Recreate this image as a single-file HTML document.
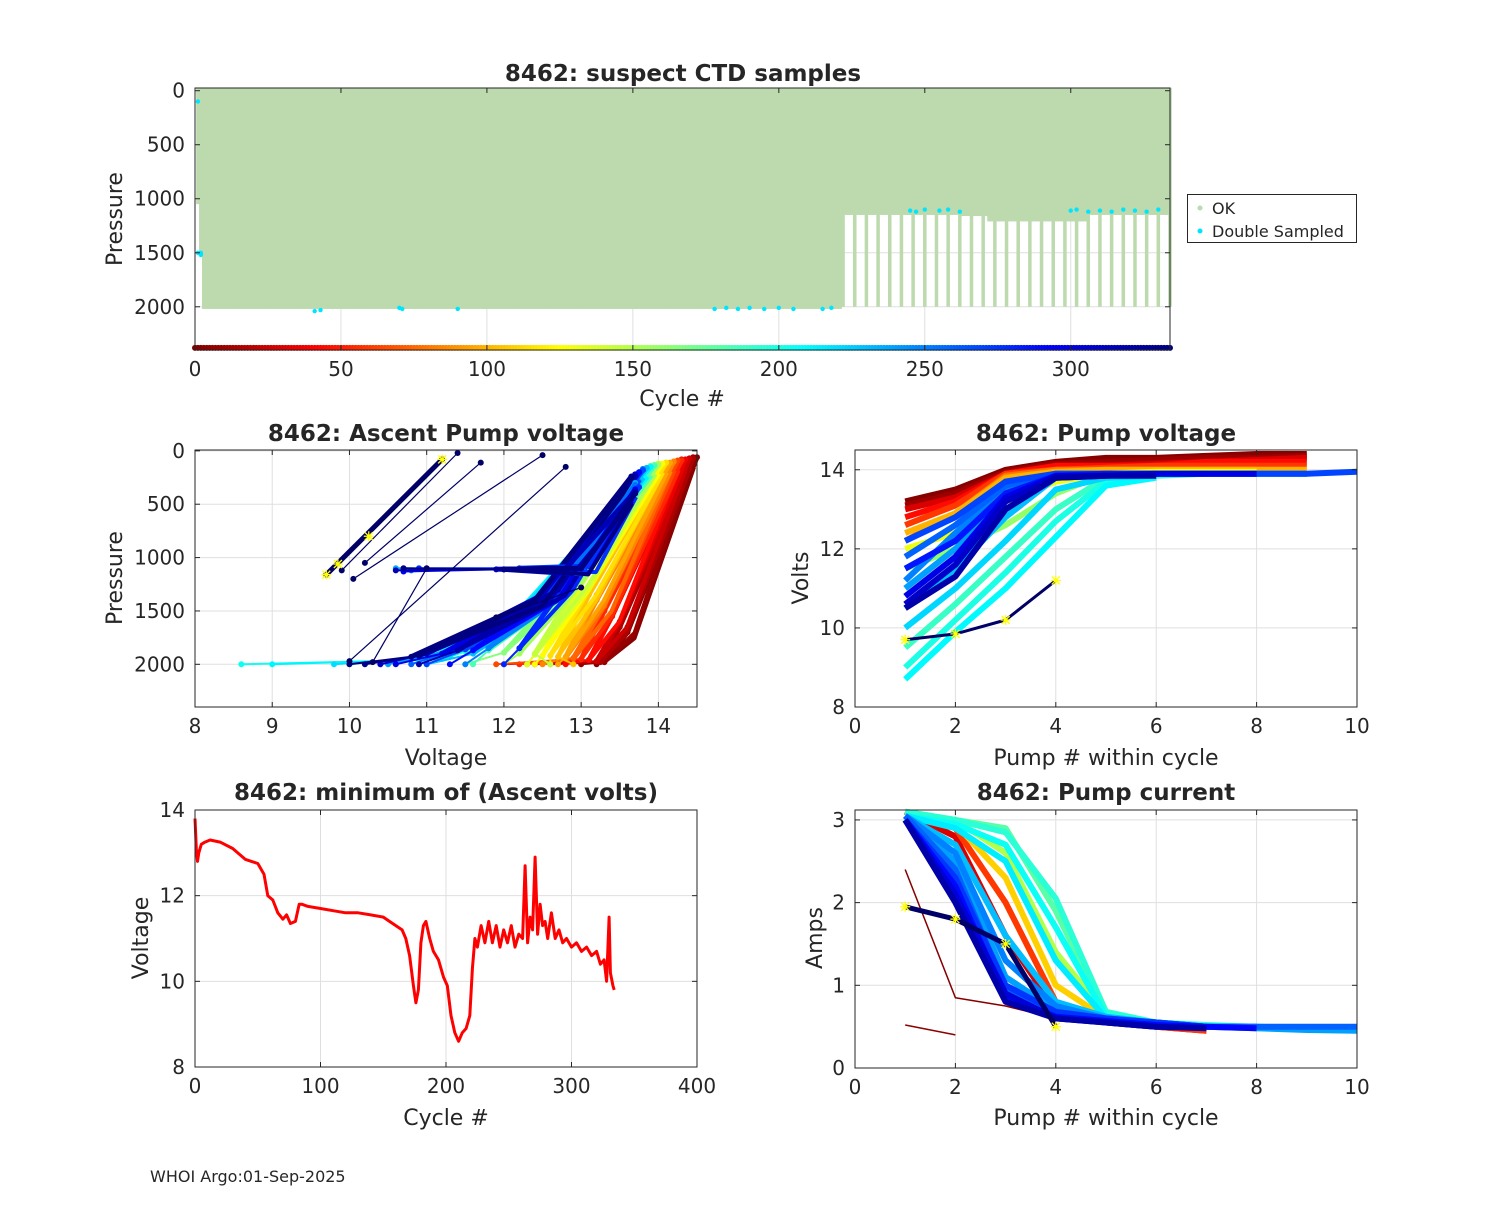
<!DOCTYPE html>
<html><head><meta charset="utf-8"><style>
body{margin:0;background:#fff;}
svg text{font-family:"DejaVu Sans","Liberation Sans",sans-serif;fill:#262626;}
</style></head><body>
<svg id="fig" width="1500" height="1200" viewBox="0 0 1500 1200" xmlns="http://www.w3.org/2000/svg">
<rect width="1500" height="1200" fill="#fff"/>
</svg>
<script>
// ---------- DATA ----------
const deepCycleEnd = 221;
const deepMaxP = 2020;
const earlyCycles = [1, 2];
const earlyMaxP = [1050, 1500];
const deepCyclesLate = [222,226,230,234,238,242,246,250,254,258,262,266,270,274,278,282,286,290,294,298,302,306,310,314,318,322,326,330,334];
const shallowStart = [222, 262, 272, 306];
const shallowDepth = [1150, 1160, 1210, 1150];
const dblCycles = [1,1,2,2,2,41,43,70,71,90,178,182,186,190,195,200,205,215,218,245,247,250,255,258,262,300,302,306,310,314,318,322,326,330];
const dblP = [100,1500,1500,1520,1510,2040,2030,2010,2020,2020,2020,2010,2020,2010,2020,2010,2020,2020,2010,1110,1120,1100,1110,1100,1120,1110,1100,1120,1110,1120,1100,1110,1120,1100];

const minCycles = [0,1,2,3,5,8,12,20,30,40,45,50,55,58,62,66,70,73,76,80,83,85,90,100,110,120,130,140,150,155,160,165,168,171,174,176,178,180,182,184,187,190,194,198,201,204,207,210,213,216,219,221,223,225,228,231,234,237,240,243,246,249,252,255,258,261,263,265,267,269,271,273,275,277,279,281,284,287,290,293,296,300,304,308,312,316,320,323,326,328,330,331,333,334];
const minVolts = [13.8,13.1,12.8,13.0,13.2,13.25,13.3,13.25,13.1,12.85,12.8,12.75,12.5,12.0,11.9,11.6,11.45,11.55,11.35,11.4,11.8,11.8,11.75,11.7,11.65,11.6,11.6,11.55,11.5,11.4,11.3,11.2,11.0,10.6,9.9,9.5,9.8,10.9,11.3,11.4,11.0,10.7,10.5,10.1,9.9,9.2,8.8,8.6,8.8,8.9,9.2,10.3,11.0,10.8,11.3,10.9,11.4,10.9,11.3,10.8,11.2,10.9,11.3,10.8,11.1,11.0,12.7,10.9,11.5,11.2,12.9,11.1,11.8,11.3,11.4,11.0,11.6,11.0,11.2,10.9,11.0,10.8,10.9,10.7,10.8,10.6,10.7,10.4,10.5,10.0,11.5,10.2,9.9,9.8];

// Ascent pump voltage profiles: [voltage, pressure] vertices (bottom, bend1, bend2, top)
const ascCycles = [3,8,15,25,35,45,55,65,75,85,95,105,115,125,135,145,155,165,175,185,195,205,212,220,230,240,250,260,270,280,290,300,310,320,330,334,236,256,276,296,316,332];
const ascV = [
[13.2,13.3,13.6,14.5],[13.0,13.3,13.6,14.45],[12.6,13.25,13.5,14.45],[12.4,13.2,13.5,14.4],[12.0,13.1,13.4,14.35],[12.8,13.1,13.4,14.3],[12.2,13.0,13.3,14.3],[11.9,12.9,13.3,14.25],[12.3,12.9,13.3,14.2],[12.5,12.8,13.2,14.2],
[12.7,12.8,13.2,14.15],[12.9,12.7,13.1,14.1],[12.6,12.6,13.1,14.1],[12.4,12.5,13.0,14.05],[12.3,12.4,13.0,14.0],[12.6,12.4,13.0,14.0],[12.0,12.2,12.9,14.0],[11.5,12.0,12.8,13.95],[10.0,11.6,12.5,13.9],[11.6,11.8,12.6,13.95],
[11.0,11.5,12.4,13.9],[8.6,11.0,12.2,13.9],[9.0,11.2,12.2,13.9],[9.8,11.3,12.3,13.85],[11.0,11.6,12.5,13.85],[10.5,11.4,12.6,13.8],[11.5,11.8,12.7,13.8],[10.8,11.3,12.6,13.8],[11.0,11.5,12.6,13.8],[12.0,12.2,12.8,13.75],
[11.3,11.6,12.7,13.75],[10.6,11.2,12.6,13.7],[10.4,11.0,12.5,13.7],[10.9,11.4,12.7,13.7],[10.2,10.9,12.4,13.65],[10.0,10.8,12.4,13.65],
[10.6,12.0,13.0,13.7],[10.8,12.0,12.9,13.7],[10.9,12.2,13.1,13.75],[10.7,12.0,13.0,13.7],[10.6,11.9,12.8,13.7],[10.7,12.0,13.0,13.7]];
const ascP = [
[2000,1980,1700,60],[2000,1980,1650,60],[2000,1980,1650,70],[2000,1970,1600,70],[2000,1960,1550,80],[2000,1960,1550,80],[2000,1950,1500,90],[2000,1950,1450,90],[2000,1940,1450,100],[2000,1940,1400,100],
[2000,1930,1350,110],[2000,1930,1350,110],[2000,1920,1300,110],[2000,1920,1250,120],[2000,1910,1250,120],[2000,1900,1200,120],[2000,1900,1200,130],[2000,1890,1250,130],[2000,1880,1400,140],[2000,1870,1350,140],
[2000,1880,1450,150],[2000,1960,1500,150],[2000,1950,1500,150],[2000,1920,1450,160],[2000,1900,1400,160],[2000,1850,1300,170],[2000,1850,1300,170],[2000,1880,1350,180],[2000,1860,1300,180],[2000,1850,1250,200],
[2000,1870,1300,200],[2000,1900,1350,220],[2000,1900,1350,220],[2000,1870,1300,240],[2000,1920,1400,240],[2000,1930,1400,250],
[1100,1110,1100,300],[1120,1110,1100,320],[1100,1100,1080,340],[1130,1110,1100,360],[1120,1110,1100,380],[1100,1110,1100,400]];
const navyV = [[9.7,11.2],[9.9,11.4],[10.05,12.5],[10.2,11.7],[11.9,13.0],[10.0,12.8],[10.3,11.0]];
const navyP = [[1160,80],[1120,20],[1200,40],[1050,110],[1560,1280],[1970,150],[1980,1100]];

// Pump voltage within cycle
const pvCycles = [2,10,30,45,60,80,100,130,160,190,200,210,222,230,240,250,260,270,285,300,310,320,334];
const pvVolts = [
[13.2,13.5,14.0,14.2,14.3,14.3,14.35,14.4,14.4],
[13.1,13.4,13.95,14.15,14.2,14.25,14.3,14.3,14.35],
[13.0,13.3,13.9,14.1,14.1,14.15,14.2,14.25,14.3],
[12.8,13.2,13.9,14.1,14.1,14.1,14.2,14.2,14.2],
[12.6,13.1,13.9,14.0,14.05,14.1,14.1,14.1,14.1],
[12.2,12.9,13.85,14.0,14.0,14.0,14.0,14.0],
[12.4,12.9,13.8,13.95,14.0,14.0,14.0,14.0,14.0],
[12.0,12.4,13.2,13.7,13.9,13.95,13.95,13.95],
[11.5,12.0,12.6,13.4,13.9,13.9,13.9],
[9.5,10.6,11.8,13.0,13.8,13.85,13.9],
[9.0,10.2,11.4,12.7,13.7,13.85],
[8.7,9.9,11.0,12.3,13.6,13.8],
[10.0,11.0,12.2,13.5,13.8,13.85],
[10.5,11.5,12.8,13.8,13.85,13.9,13.9,13.9,13.9],
[11.0,12.0,13.2,13.85,13.9,13.9,13.9,13.9],
[11.2,12.4,13.5,13.85,13.9,13.9,13.9,13.9,13.9],
[11.8,12.6,13.6,13.9,13.9,13.9,13.9],
[12.2,12.8,13.7,13.9,13.9,13.9,13.9,13.9,13.9,13.95],
[11.5,12.2,13.4,13.85,13.9,13.9],
[10.8,11.8,13.3,13.85,13.85,13.9,13.9,13.9],
[10.6,11.6,13.2,13.8,13.85],
[10.5,11.3,13.0,13.8,13.85,13.85],
[9.7,9.85,10.2,11.2]];

// Pump current within cycle
const pcCycles = [2,5,30,60,110,150,180,195,205,215,230,240,250,260,275,290,305,320,334];
const pcAmps = [
[2.4,0.85,0.75,0.6],
[0.52,0.4],
[3.1,2.8,1.6,0.7,0.55,0.5,0.45],
[3.1,2.9,2.0,0.8,0.6,0.5,0.45],
[3.1,2.95,2.3,1.0,0.6,0.55,0.5],
[3.1,3.0,2.6,1.4,0.65,0.55,0.5,0.5],
[3.1,3.0,2.9,1.9,0.65,0.55,0.5,0.5,0.48],
[3.1,3.0,2.85,2.05,0.68,0.55,0.52,0.5,0.48],
[3.05,2.95,2.7,1.7,0.62,0.55,0.5,0.5],
[3.05,2.9,2.5,1.3,0.6,0.55,0.5],
[3.05,2.7,1.6,0.8,0.62,0.55,0.5,0.5],
[3.05,2.5,1.1,0.7,0.6,0.55,0.5,0.48,0.46,0.45],
[3.05,2.6,1.3,0.75,0.6,0.55,0.5,0.5],
[3.05,2.4,0.95,0.65,0.58,0.55,0.5,0.5,0.5,0.5],
[3.0,2.3,1.0,0.68,0.6,0.55,0.5],
[3.0,2.2,0.85,0.62,0.57,0.52,0.5,0.48],
[3.0,2.1,0.9,0.6,0.55,0.5],
[3.0,2.0,0.8,0.6,0.55,0.5,0.48],
[1.95,1.8,1.5,0.5]];

const topXTicks = [0,50,100,150,200,250,300];
const topYTicks = [0,500,1000,1500,2000];
const mlXTicks = [8,9,10,11,12,13,14];
const mlYTicks = [0,500,1000,1500,2000];
const pumpXTicks = [0,2,4,6,8,10];
const pvYTicks = [8,10,12,14];
const blXTicks = [0,100,200,300,400];
const blYTicks = [8,10,12,14];
const pcYTicks = [0,1,2,3];

// ---------- DRAWING ----------
const NS = 'http://www.w3.org/2000/svg';
const fig = document.getElementById('fig');
function mk(tag, attrs, parent){
  const e = document.createElementNS(NS, tag);
  for (const k in attrs) e.setAttribute(k, attrs[k]);
  (parent || fig).appendChild(e);
  return e;
}
function jet(t){
  const c = v => Math.max(0, Math.min(1, v));
  const r = c(1.5 - Math.abs(4*t - 3)), g = c(1.5 - Math.abs(4*t - 2)), b = c(1.5 - Math.abs(4*t - 1));
  return `rgb(${Math.round(r*255)},${Math.round(g*255)},${Math.round(b*255)})`;
}
function cyc(c){ return jet(1 - c/334); }

function axes(name, x0, y0, w, h, xmin, xmax, ymin, ymax, revY, xt, yt){
  const g = mk('g', {});
  
  
  const sx = v => x0 + (v - xmin) / (xmax - xmin) * w;
  const sy = revY ? (v => y0 + (v - ymin) / (ymax - ymin) * h) : (v => y0 + h - (v - ymin) / (ymax - ymin) * h);
  mk('rect', {x:x0, y:y0, width:w, height:h, fill:'#fff'}, g);
  const grid = mk('g', {}, g);
  
  
  xt.forEach(v => { mk('line', {x1:sx(v), x2:sx(v), y1:y0, y2:y0+h, stroke:'#dfdfdf', 'stroke-width':1}, grid); });
  yt.forEach(v => { mk('line', {x1:x0, x2:x0+w, y1:sy(v), y2:sy(v), stroke:'#dfdfdf', 'stroke-width':1}, grid); });
  const plot = mk('g', {}, g);
  
  
  const over = mk('g', {}, g);
  mk('rect', {x:x0, y:y0, width:w, height:h, fill:'none', stroke:'#262626', 'stroke-width':1}, over);
  xt.forEach(v => {
    mk('line', {x1:sx(v), x2:sx(v), y1:y0+h, y2:y0+h-5, stroke:'#262626'}, over);
    mk('line', {x1:sx(v), x2:sx(v), y1:y0, y2:y0+5, stroke:'#262626'}, over);
    const t = mk('text', {x:sx(v), y:y0+h+26, 'text-anchor':'middle', 'font-size':20}, over);
    t.textContent = v;
    
    
  });
  yt.forEach(v => {
    mk('line', {x1:x0, x2:x0+5, y1:sy(v), y2:sy(v), stroke:'#262626'}, over);
    mk('line', {x1:x0+w, x2:x0+w-5, y1:sy(v), y2:sy(v), stroke:'#262626'}, over);
    const t = mk('text', {x:x0-10, y:sy(v)+7, 'text-anchor':'end', 'font-size':20}, over);
    t.textContent = v;
    
    
  });
  return {sx, sy, plot, over, g};
}
function label(txt, x, y, size, opts, nm){
  const t = mk('text', Object.assign({x, y, 'text-anchor':'middle', 'font-size':size}, opts||{}));
  t.textContent = txt;
  
  
  return t;
}
function poly(parent, pts, color, w, name){
  const p = mk('polyline', {points: pts.map(q => q[0].toFixed(1)+','+q[1].toFixed(1)).join(' '), fill:'none', stroke:color, 'stroke-width':w, 'stroke-linejoin':'round'}, parent);
  
  
  return p;
}
function dot(parent, x, y, r, color, name){
  const c = mk('circle', {cx:x, cy:y, r, fill:color}, parent);
  
  
}
function star(parent, x, y, name){
  const p = mk('path', {d:`M${x-5},${y}H${x+5}M${x},${y-5}V${y+5}M${x-4},${y-4}L${x+4},${y+4}M${x-4},${y+4}L${x+4},${y-4}`, stroke:'#ffff00', 'stroke-width':1.3}, parent);
  
  
}

// ---- Top plot ----
const A = axes('ctd-samples-plot', 195, 88, 975, 262, 0, 334, -25, 2400, true, topXTicks, topYTicks);
const green = '#bcdaae';
const cw = A.sx(1) - A.sx(0);
function maxP(c){
  const ei = earlyCycles.indexOf(c);
  if (ei >= 0) return earlyMaxP[ei];
  if (c <= deepCycleEnd) return deepMaxP;
  if (deepCyclesLate.indexOf(c) >= 0) return deepMaxP - 20;
  let d = shallowDepth[0];
  shallowStart.forEach((s, i) => { if (c >= s) d = shallowDepth[i]; });
  return d;
}
for (let c = 1; c <= 334; c++){
  const r = mk('rect', {x:A.sx(c-0.5)-0.3, y:A.sy(0)-3, width:cw+0.6, height:A.sy(maxP(c))-A.sy(0)+3, fill:green}, A.plot);
  
  
}
for (let c = 0; c <= 334; c++){
  dot(A.plot, A.sx(c), A.sy(2380), 3, cyc(c), 'cycle-color-marker');
}
dblCycles.forEach((c, i) => dot(A.plot, A.sx(c), A.sy(dblP[i]), 2.2, '#00e5ff', 'double-sampled-point'));
label('8462: suspect CTD samples', 683, 81, 23, {'font-weight':'bold', fill:'#000'}, 'top-title');
label('Cycle #', 682, 406, 22, {}, 'top-x-axis-title');
label('Pressure', 122, 219, 22, {transform:'rotate(-90 122 219)'}, 'top-y-axis-title');
const lg = mk('g', {});


mk('rect', {x:1187.5, y:194.5, width:169, height:48, fill:'#fff', stroke:'#262626'}, lg);
dot(lg, 1200, 208, 2.5, '#bcdaae', 'legend-ok-marker');
dot(lg, 1200, 231, 2.5, '#00e5ff', 'legend-double-marker');
const l1 = mk('text', {x:1212, y:214, 'font-size':16}, lg); l1.textContent = 'OK';


const l2 = mk('text', {x:1212, y:237, 'font-size':16}, lg); l2.textContent = 'Double Sampled';



// ---- Mid-left ----
const B = axes('ascent-pump-voltage-plot', 195, 450, 502, 257, 8, 14.5, -8, 2400, true, mlXTicks, mlYTicks);
ascCycles.forEach((c, i) => {
  const pts = ascV[i].map((v, j) => [B.sx(v), B.sy(ascP[i][j])]);
  const col = cyc(c);
  poly(B.plot, pts.slice(0, 2), col, 2, 'ascent-profile-bottom-line');
  poly(B.plot, pts.slice(1), col, 5, 'ascent-profile-line');
  poly(B.plot, [pts[1], [pts[2][0]+7, pts[2][1]+6], [pts[3][0]-3, pts[3][1]+10]], col, 4, 'ascent-profile-line');
  pts.forEach(q => dot(B.plot, q[0], q[1], 3, col, 'ascent-profile-point'));
});
navyV.forEach((vs, i) => {
  const pts = vs.map((v, j) => [B.sx(v), B.sy(navyP[i][j])]);
  poly(B.plot, pts, '#000066', i === 0 ? 5 : 1.2, 'late-cycle-line');
  pts.forEach(q => dot(B.plot, q[0], q[1], 3, '#000066', 'late-cycle-point'));
});
star(B.plot, B.sx(9.7), B.sy(1160), 'latest-cycle-star');
star(B.plot, B.sx(9.85), B.sy(1060), 'latest-cycle-star');
star(B.plot, B.sx(10.25), B.sy(800), 'latest-cycle-star');
star(B.plot, B.sx(11.2), B.sy(80), 'latest-cycle-star');
label('8462: Ascent Pump voltage', 446, 441, 23, {'font-weight':'bold', fill:'#000'}, 'ascent-title');
label('Voltage', 446, 765, 22, {}, 'ascent-x-axis-title');
label('Pressure', 122, 578, 22, {transform:'rotate(-90 122 578)'}, 'ascent-y-axis-title');

// ---- Mid-right ----
const C = axes('pump-voltage-plot', 855, 450, 502, 257, 0, 10, 8, 14.5, false, pumpXTicks, pvYTicks);
pvCycles.forEach((c, i) => {
  const pts = pvVolts[i].map((v, j) => [C.sx(j+1), C.sy(v)]);
  const last = i === pvCycles.length - 1;
  poly(C.plot, pts, last ? '#000066' : cyc(c), last ? 3 : 6, 'pump-voltage-line');
  if (last) pts.forEach(q => star(C.plot, q[0], q[1], 'latest-pump-star'));
});
label('8462: Pump voltage', 1106, 441, 23, {'font-weight':'bold', fill:'#000'}, 'pump-voltage-title');
label('Pump # within cycle', 1106, 765, 22, {}, 'pump-voltage-x-axis-title');
label('Volts', 808, 578, 22, {transform:'rotate(-90 808 578)'}, 'pump-voltage-y-axis-title');

// ---- Bottom-left ----
const D = axes('min-ascent-volts-plot', 195, 810, 502, 257, 0, 400, 8, 14, false, blXTicks, blYTicks);
poly(D.plot, minCycles.map((c, i) => [D.sx(c), D.sy(minVolts[i])]), '#ff0000', 3, 'min-volts-line');
label('8462: minimum of (Ascent volts)', 446, 800, 23, {'font-weight':'bold', fill:'#000'}, 'min-volts-title');
label('Cycle #', 446, 1125, 22, {}, 'min-volts-x-axis-title');
label('Voltage', 148, 938, 22, {transform:'rotate(-90 148 938)'}, 'min-volts-y-axis-title');

// ---- Bottom-right ----
const E = axes('pump-current-plot', 855, 810, 502, 258, 0, 10, 0, 3.12, false, pumpXTicks, pcYTicks);
pcCycles.forEach((c, i) => {
  const pts = pcAmps[i].map((v, j) => [E.sx(j+1), E.sy(v)]);
  const last = i === pcCycles.length - 1;
  poly(E.plot, pts, last ? '#000066' : cyc(c), (i < 2) ? 1.5 : (last ? 5 : 6), 'pump-current-line');
  if (last) pts.forEach(q => star(E.plot, q[0], q[1], 'latest-current-star'));
});
label('8462: Pump current', 1106, 800, 23, {'font-weight':'bold', fill:'#000'}, 'pump-current-title');
label('Pump # within cycle', 1106, 1125, 22, {}, 'pump-current-x-axis-title');
label('Amps', 822, 938, 22, {transform:'rotate(-90 822 938)'}, 'pump-current-y-axis-title');

const ft = mk('text', {x:150, y:1182, 'font-size':16, fill:'#000'});
ft.textContent = 'WHOI Argo:01-Sep-2025';


</script>
</body></html>
